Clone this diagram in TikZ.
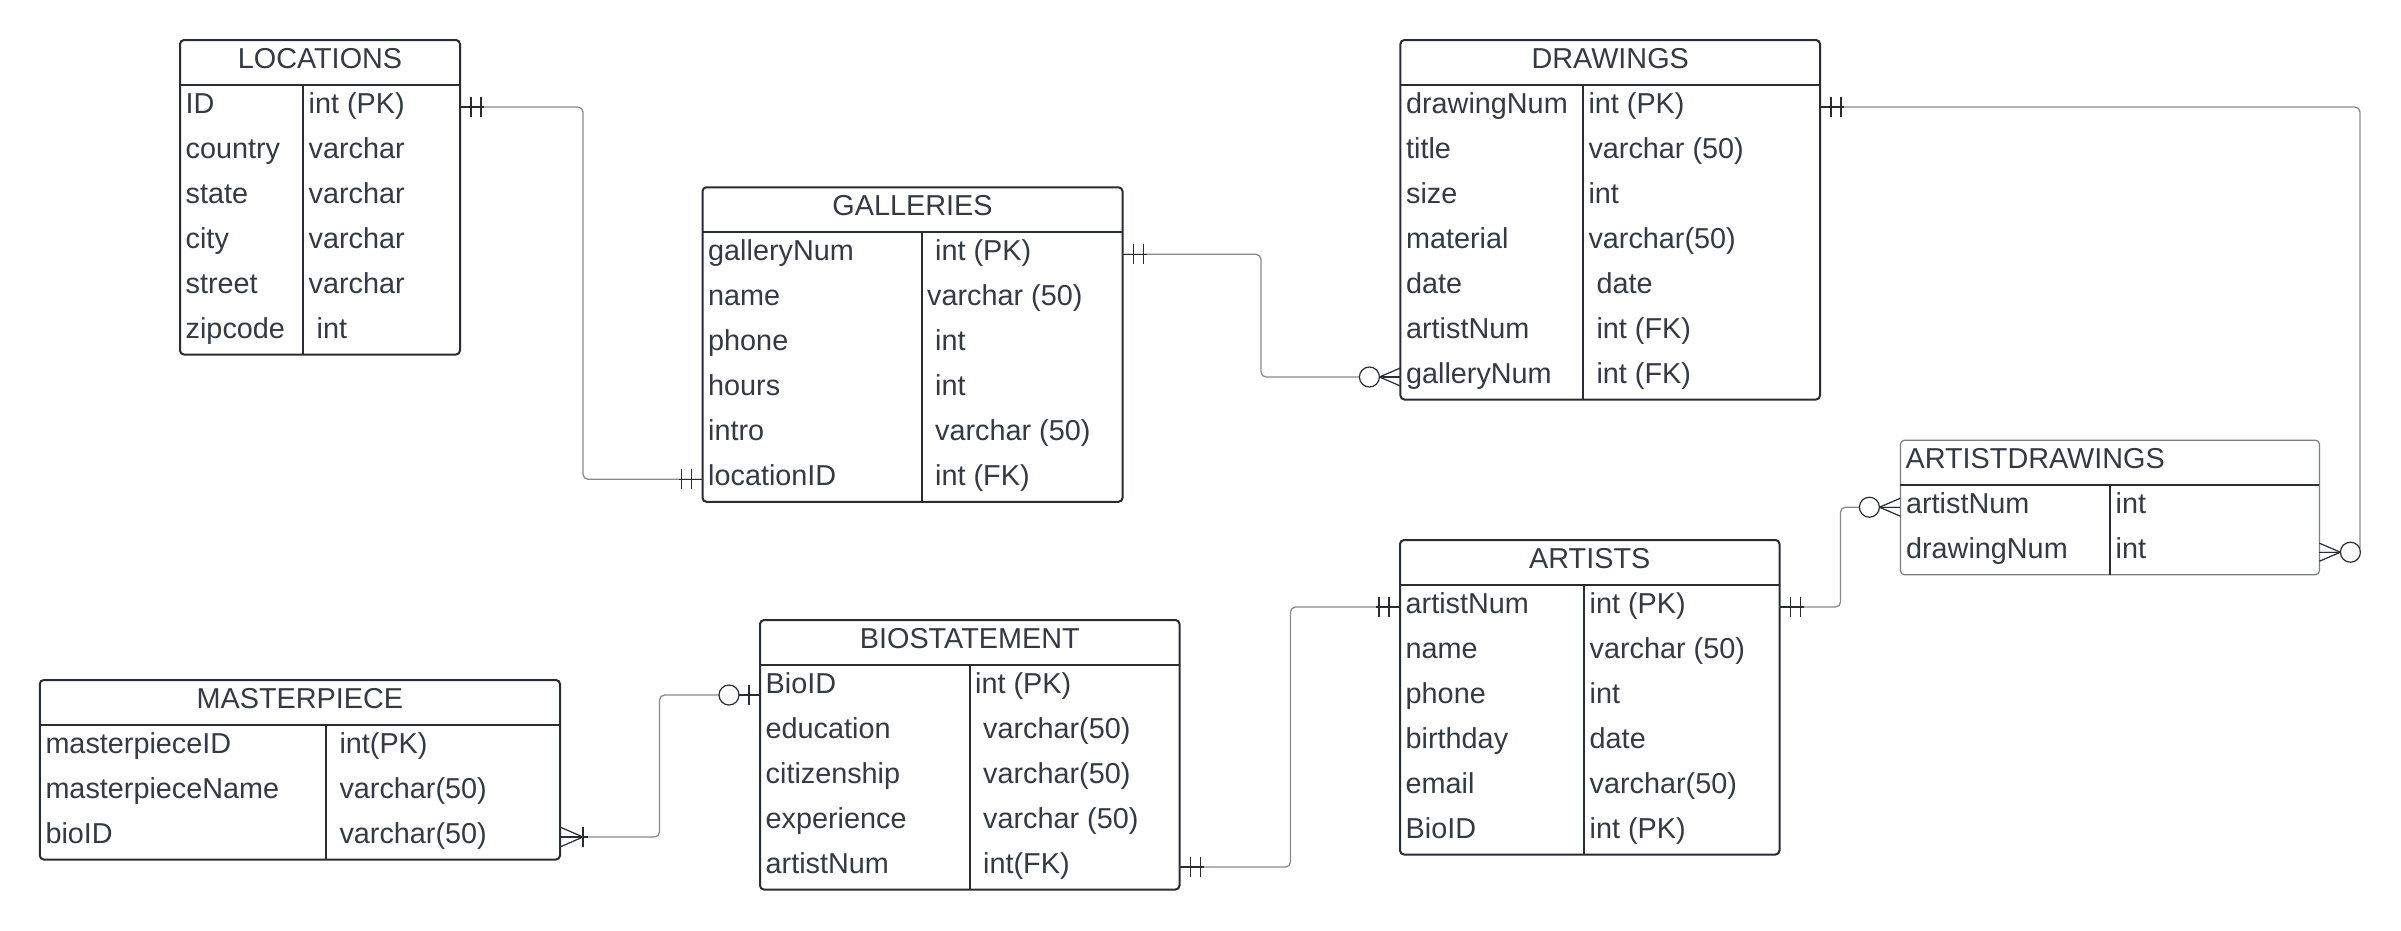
\documentclass[tikz,border=0pt]{standalone}
\usepackage{fontspec}
\setmainfont{Liberation Sans}
\usetikzlibrary{calc}
\definecolor{bordercol}{HTML}{282C33}
\definecolor{txtcol}{HTML}{333A45}
\definecolor{conncol}{HTML}{8A8A8A}
\definecolor{lightborder}{HTML}{7A7F86}
\newcommand\tblfont{\fontsize{28.8pt}{34pt}\selectfont}
\tikzset{
  tblbox/.style={draw=bordercol, line width=2pt, rounded corners=4pt, inner sep=0pt, outer sep=0pt},
  tblline/.style={draw=bordercol, line width=2pt},
  rowbox/.style={draw=none, minimum height=45pt, inner sep=0pt, outer sep=0pt},
  hdrtext/.style={anchor=base, inner sep=0pt, font=\tblfont, text=txtcol},
  celltext/.style={anchor=base west, inner sep=0pt, font=\tblfont, text=txtcol},
  conn/.style={draw=conncol, line width=1.3pt, rounded corners=5pt},
  sym/.style={draw=bordercol, line width=1.2pt},
}
% #1 title options, #2 name, #3 x, #4 y, #5 width, #6 divider offset, #7 rows, #8 title, #9 rows list
\newcommand\ertable[9][]{%
  \pgfmathsetmacro\tblH{44.5+45*#7}%
  \node[tblbox, minimum width=#5pt, minimum height=\tblH pt, anchor=north west] (#2) at (#3,#4) {};
  \draw[tblline] (#3,#4+44.5) -- ++(#5,0);
  \draw[tblline] (#3+#6,#4+44.5) -- ++(0,45*#7);
  \node[hdrtext,#1] (#2-title) at (#3+#5/2,#4+28.5) {#8};
  \foreach [count=\i] \a/\b in {#9} {
    \node[rowbox, minimum width=#5pt, anchor=north west] (#2-r\i) at (#3,#4+44.5+45*\i-45) {};
    \node[celltext] (#2-k\i) at (#3+5.5,#4+44.5+45*\i-45+28.5) {\a};
    \node[celltext] (#2-t\i) at (#3+#6+5.5,#4+44.5+45*\i-45+28.5) {\b};
  }
}
\newcommand\symOne[2]{%
  \draw[sym] (#1) -- ($(#1)+(#2*24,0)$);
  \draw[sym] ($(#1)+(#2*11,-10)$) -- ($(#1)+(#2*11,10)$);
  \draw[sym] ($(#1)+(#2*21,-10)$) -- ($(#1)+(#2*21,10)$);
}
\newcommand\symZeroMany[2]{%
  \draw[sym] (#1) -- ($(#1)+(#2*21,0)$);
  \draw[sym] ($(#1)+(0,-9)$) -- ($(#1)+(#2*21,0)$) -- ($(#1)+(0,9)$);
  \draw[sym,fill=white] ($(#1)+(#2*31,0)$) circle (10pt);
}
\newcommand\symOneMany[2]{%
  \draw[sym] (#1) -- ($(#1)+(#2*28,0)$);
  \draw[sym] ($(#1)+(0,-10)$) -- ($(#1)+(#2*23,0)$) -- ($(#1)+(0,10)$);
  \draw[sym] ($(#1)+(#2*23,-10)$) -- ($(#1)+(#2*23,10)$);
}
\newcommand\symZeroOne[2]{%
  \draw[sym] (#1) -- ($(#1)+(#2*21,0)$);
  \draw[sym] ($(#1)+(#2*11,-10)$) -- ($(#1)+(#2*11,10)$);
  \draw[sym,fill=white] ($(#1)+(#2*31,0)$) circle (10pt);
}
\begin{document}
\begin{tikzpicture}[x=1pt,y=-1pt]
\useasboundingbox (0,0) rectangle (2401,930);
\fill[white] (0,0) rectangle (2401,930);

\ertable{loc}{180}{40}{280}{123}{6}{LOCATIONS}{ID/int (PK), country/varchar, state/varchar, city/varchar, street/varchar, zipcode/\ int}

\ertable{gal}{702.5}{187.3}{420}{219}{6}{GALLERIES}{galleryNum/\ int (PK), name/varchar (50), phone/\ int, hours/\ int, intro/\ varchar (50), locationID/\ int (FK)}

\ertable{drw}{1400.4}{40}{419.6}{182.4}{7}{DRAWINGS}{drawingNum/int (PK), title/varchar (50), size/int, material/varchar(50), date/\ date, artistNum/\ int (FK), galleryNum/\ int (FK)}

\begin{scope}[tblbox/.append style={line width=1.2pt, draw=lightborder}]
\ertable[anchor=base west, xshift=-204.5pt]{ad}{1900.4}{440.2}{419}{209.6}{2}{ARTISTDRAWINGS}{artistNum/int, drawingNum/int}
\end{scope}

\ertable{art}{1400}{540}{379.5}{184}{6}{ARTISTS}{artistNum/int (PK), name/varchar (50), phone/int, birthday/date, email/varchar(50), BioID/int (PK)}

\ertable{bio}{760}{620}{419.5}{209.5}{5}{BIOSTATEMENT}{BioID/int (PK), education/\ varchar(50), citizenship/\ varchar(50), experience/\ varchar (50), artistNum/\ int(FK)}

\ertable{mas}{39.8}{680}{520.2}{286}{3}{MASTERPIECE}{masterpieceID/\ int(PK), masterpieceName/\ varchar(50), bioID/\ varchar(50)}

% connectors
\coordinate (bioin) at ([yshift=-8pt]bio-r1.west);
\draw[conn] (loc-r1.east) -- ++(123,0) |- (gal-r6.west);
\draw[conn] (gal-r1.east) -- ++(138.5,0) |- (drw-r7.west);
\draw[conn] (drw-r1.east) -- ++(540,0) |- (ad-r2.east);
\draw[conn] (art-r1.east) -- ++(61,0) |- (ad-r1.west);
\draw[conn] (bio-r5.east) -- ++(111,0) |- (art-r1.west);
\draw[conn] (mas-r3.east) -- ++(99.5,0) |- (bioin);

% end symbols
\symOne{loc-r1.east}{1}
\symOne{gal-r6.west}{-1}
\symOne{gal-r1.east}{1}
\symZeroMany{drw-r7.west}{-1}
\symOne{drw-r1.east}{1}
\symZeroMany{ad-r2.east}{1}
\symOne{art-r1.east}{1}
\symZeroMany{ad-r1.west}{-1}
\symOne{bio-r5.east}{1}
\symOne{art-r1.west}{-1}
\symOneMany{mas-r3.east}{1}
\symZeroOne{bioin}{-1}
\end{tikzpicture}
\end{document}
